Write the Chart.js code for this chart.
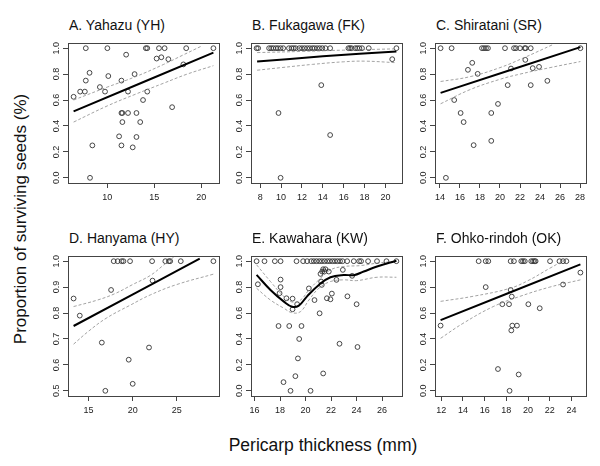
<!DOCTYPE html>
<html>
<head>
<meta charset="utf-8">
<script src="https://cdn.jsdelivr.net/npm/chart.js@4.4.1/dist/chart.umd.min.js"></script>
<style>
  body { margin: 0; background: #fff; }
  #page { position: relative; width: 600px; height: 466px; overflow: hidden; font-family: "Liberation Sans", Arial, sans-serif; color: #111; }
  canvas { position: absolute; }
  .title { position: absolute; font-size: 14px; line-height: 14px; white-space: nowrap; }
  #ylab { position: absolute; left: 21px; top: 219px; font-size: 17px; white-space: nowrap; transform: translate(-50%, -50%) rotate(-90deg); }
  #xlab { position: absolute; left: 323px; top: 445px; font-size: 17.5px; white-space: nowrap; transform: translate(-50%, -50%); }
</style>
</head>
<body>
<div id="page">
  <div id="ylab">Proportion of surviving seeds (%)</div>
  <div id="xlab">Pericarp thickness (mm)</div>
</div>
<script>
// tick labels
const yTicks = [0, 0.2, 0.4, 0.6, 0.8, 1.0];
const yTicksD = [0.5, 0.6, 0.7, 0.8, 0.9, 1.0];

// A. Yahazu
const xA = [7.7, 10.0, 14.1, 14.25, 15.5, 16.1, 18.4, 21.3, 12.0, 15.25, 15.75, 16.5, 18.1, 8.1, 12.9, 7.7, 10.1, 11.5, 7.1, 7.6, 9.2, 9.75, 12.2, 14.25, 6.4, 13.8, 16.9, 11.5, 11.6, 12.2, 13.1, 11.6, 13.5, 11.25, 13.1, 8.4, 11.5, 12.7, 8.15];
const yA = [1, 1, 1, 1, 1, 1, 1, 1, 0.95, 0.92, 0.93, 0.915, 0.875, 0.81, 0.80, 0.75, 0.785, 0.75, 0.665, 0.665, 0.70, 0.665, 0.665, 0.665, 0.625, 0.60, 0.545, 0.5, 0.5, 0.5, 0.5, 0.43, 0.43, 0.32, 0.315, 0.25, 0.25, 0.235, 0];
const fitAx = [6.4, 21.3], fitAy = [0.513, 0.966];
const upAx = [6.4, 10, 13, 16, 18, 20], upAy = [0.60, 0.70, 0.78, 0.875, 0.945, 1.015];
const loAx = [6.4, 10, 13, 16, 18.5, 21.3], loAy = [0.43, 0.555, 0.645, 0.73, 0.80, 0.865];
const ticksA = [10, 15, 20];

// B. Fukagawa
const xB = [7.65, 7.8, 8.85, 9.05, 9.25, 9.5, 9.7, 9.95, 10.2, 10.75, 11.0, 11.2, 11.4, 11.75, 12.0, 12.25, 12.5, 12.75, 13.0, 13.2, 13.45, 13.7, 13.95, 14.25, 14.7, 16.45, 16.6, 16.75, 17.1, 17.3, 17.5, 17.75, 18.4, 21.05, 20.65, 13.85, 9.75, 14.7, 9.95];
const yB = [1, 1, 1, 1, 1, 1, 1, 1, 1, 1, 1, 1, 1, 1, 1, 1, 1, 1, 1, 1, 1, 1, 1, 1, 1, 1, 1, 1, 1, 1, 1, 1, 1, 1, 0.915, 0.715, 0.50, 0.33, 0];
const fitBx = [7.7, 14, 21.05], fitBy = [0.897, 0.937, 0.975];
const upBx = [7.7, 12, 16, 21.05], upBy = [0.966, 0.975, 0.985, 0.995];
const loBx = [7.7, 10, 13, 16, 18, 21.05], loBy = [0.83, 0.85, 0.875, 0.895, 0.90, 0.888];
const ticksB = [8, 10, 12, 14, 16, 18, 20];

// C. Shiratani
const xC = [14.07, 15.17, 18.2, 18.4, 18.6, 18.8, 20.5, 21.4, 21.6, 22.0, 22.47, 22.57, 23.07, 28.03, 17.23, 16.8, 17.77, 22.53, 21.1, 23.27, 23.9, 20.77, 23.07, 24.73, 15.43, 16.07, 16.37, 19.8, 19.13, 17.37, 19.13, 14.6];
const yC = [1, 1, 1, 1, 1, 1, 1, 1, 1, 1, 1, 1, 1, 1, 0.887, 0.833, 0.802, 0.91, 0.843, 0.846, 0.856, 0.715, 0.715, 0.748, 0.60, 0.50, 0.43, 0.57, 0.50, 0.252, 0.285, 0];
const fitCx = [14.07, 28.03], fitCy = [0.655, 1.008];
const upCx = [14.07, 17, 20, 22.5, 25.2], upCy = [0.743, 0.78, 0.85, 0.93, 1.025];
const loCx = [14.07, 17, 20, 22, 25, 28.03], loCy = [0.571, 0.68, 0.76, 0.80, 0.85, 0.897];
const ticksC = [14, 16, 18, 20, 22, 24, 26, 28];

// D. Hanyama
const xD = [13.3, 14.0, 17.55, 16.5, 16.9, 19.55, 20.0, 21.85, 22.25, 17.85, 18.3, 18.75, 18.95, 19.7, 22.2, 23.7, 24.1, 24.25, 25.45, 29.15];
const yD = [0.856, 0.79, 0.889, 0.686, 0.50, 0.62, 0.527, 0.667, 0.925, 1, 1, 1, 1, 1, 1, 1, 1, 1, 1, 1];
const fitDx = [13.3, 27.6], fitDy = [0.75, 1.01];
const upDx = [13.3, 16, 18, 20, 22, 23.5, 25], upDy = [0.825, 0.85, 0.875, 0.91, 0.945, 0.985, 1.025];
const loDx = [13.3, 15, 17, 19.7, 22, 25, 29.15], loDy = [0.68, 0.73, 0.78, 0.83, 0.87, 0.91, 0.95];
const ticksD = [15, 20, 25];

// E. Kawahara
const xE = [16.16, 16.78, 17.59, 18.04, 19.29, 19.81, 20.12, 20.44, 20.65, 20.86, 21.07, 21.28, 21.49, 21.7, 21.9, 22.1, 22.3, 22.5, 22.7, 22.9, 23.26, 23.78, 24.2, 24.35, 24.9, 25.6, 26.34, 27.12,
  16.26, 18.04, 18.04, 17.96, 18.5, 18.98, 18.98, 19.34, 20.26, 20.7, 21.1, 21.17, 21.38, 21.56, 21.3, 21.48, 21.82, 21.22, 21.27, 21.67, 21.95, 22.06, 22.42, 22.92, 23.28, 23.65, 24.0,
  17.88, 18.72, 19.68, 19.5, 22.66, 24.07, 19.4, 19.2, 18.27, 21.38, 18.82, 20.39];
const yE = [1, 1, 1, 1, 1, 1, 1, 1, 1, 1, 1, 1, 1, 1, 1, 1, 1, 1, 1, 1, 1, 1, 1, 1, 1, 1, 1, 1,
  0.822, 0.858, 0.80, 0.753, 0.714, 0.711, 0.629, 0.668, 0.79, 0.70, 0.598, 0.902, 0.938, 0.938, 0.92, 0.92, 0.92, 0.843, 0.817, 0.714, 0.706, 0.75, 0.856, 0.933, 0.729, 0.887, 0.668,
  0.50, 0.50, 0.50, 0.40, 0.363, 0.338, 0.25, 0.113, 0.067, 0.134, 0, 0];
const fitEx = [16.16, 17.25, 18.3, 18.95, 19.47, 20.1, 21.04, 21.95, 23.0, 23.78, 24.56, 25.6, 27.12];
const fitEy = [0.894, 0.778, 0.688, 0.648, 0.657, 0.727, 0.817, 0.876, 0.894, 0.892, 0.92, 0.959, 1.003];
const upEx = [16.16, 17.25, 18.3, 18.95, 19.6, 20.26, 21.04, 21.95, 23.0, 24.3, 25.6, 27.12];
const upEy = [0.972, 0.843, 0.727, 0.685, 0.70, 0.778, 0.856, 0.933, 0.959, 0.966, 0.985, 1.0];
const loEx = [16.16, 17.25, 18.3, 18.95, 19.6, 20.26, 21.04, 21.95, 23.0, 24.0, 25.6, 27.12];
const loEy = [0.791, 0.70, 0.637, 0.602, 0.611, 0.70, 0.791, 0.843, 0.856, 0.85, 0.876, 0.876];
const ticksE = [16, 18, 20, 22, 24, 26];

// F. Ohko-rindoh
const xF = [15.45, 16.1, 16.34, 18.4, 18.7, 19.38, 19.54, 19.7, 20.3, 20.46, 20.6, 20.7, 22.03, 22.9, 23.23, 23.54,
  16.1, 17.63, 18.25, 18.4, 18.5, 20.03, 21.08, 18.55, 18.98, 18.46, 23.23, 24.83, 11.94, 17.23, 19.14, 18.3];
const yF = [1, 1, 1, 1, 1, 1, 1, 1, 1, 1, 1, 1, 1, 1, 1, 1,
  0.80, 0.668, 0.668, 0.778, 0.727, 0.668, 0.637, 0.503, 0.503, 0.466, 0.82, 0.912, 0.503, 0.168, 0.126, 0];
const fitFx = [11.94, 24.83], fitFy = [0.545, 0.975];
const upFx = [11.94, 15, 18.3, 20, 22, 23.4], upFy = [0.69, 0.73, 0.79, 0.85, 0.945, 1.01];
const loFx = [11.94, 14, 16.8, 19.2, 22, 24.83], loFy = [0.405, 0.52, 0.65, 0.727, 0.80, 0.856];
const ticksF = [12, 14, 16, 18, 20, 22, 24];

function pairs(xs, ys) { return xs.map((x, i) => ({ x: x, y: ys[i] })); }
function padRange(vals) {
  const lo = Math.min(...vals), hi = Math.max(...vals), d = (hi - lo) * 0.04;
  return [lo - d, hi + d];
}

const PW = 151, PH = 140;
const panels = [
  { title: 'A. Yahazu (YH)', left: 68, top: 43, x: xA, y: yA, fit: [fitAx, fitAy], up: [upAx, upAy], lo: [loAx, loAy], xt: ticksA, yt: yTicks },
  { title: 'B. Fukagawa (FK)', left: 251, top: 43, x: xB, y: yB, fit: [fitBx, fitBy], up: [upBx, upBy], lo: [loBx, loBy], xt: ticksB, yt: yTicks },
  { title: 'C. Shiratani (SR)', left: 435, top: 43, x: xC, y: yC, fit: [fitCx, fitCy], up: [upCx, upCy], lo: [loCx, loCy], xt: ticksC, yt: yTicks },
  { title: 'D. Hanyama (HY)', left: 68, top: 256, x: xD, y: yD, fit: [fitDx, fitDy], up: [upDx, upDy], lo: [loDx, loDy], xt: ticksD, yt: yTicksD },
  { title: 'E. Kawahara (KW)', left: 251, top: 256, x: xE, y: yE, fit: [fitEx, fitEy], up: [upEx, upEy], lo: [loEx, loEy], xt: ticksE, yt: yTicks },
  { title: 'F. Ohko-rindoh (OK)', left: 435, top: 256, x: xF, y: yF, fit: [fitFx, fitFy], up: [upFx, upFy], lo: [loFx, loFy], xt: ticksF, yt: yTicks }
];

const boxPlugin = {
  id: 'box',
  afterDraw(chart) {
    const a = chart.chartArea, c = chart.ctx;
    c.save();
    c.strokeStyle = '#444';
    c.lineWidth = 1;
    c.strokeRect(a.left + 0.5, a.top + 0.5, a.width, a.height);
    c.restore();
  }
};

const page = document.getElementById('page');
const tickFont = { family: '"Liberation Sans", Arial, sans-serif', size: 9 };

panels.forEach(p => {
  const t = document.createElement('div');
  t.className = 'title';
  t.textContent = p.title;
  t.style.left = (p.left + 1) + 'px';
  t.style.top = (p.top - 25) + 'px';
  page.appendChild(t);

  const cv = document.createElement('canvas');
  cv.width = PW + 40;
  cv.height = PH + 34;
  cv.style.left = (p.left - 30) + 'px';
  cv.style.top = (p.top - 6) + 'px';
  page.appendChild(cv);

  const xr = padRange(p.x), yr = padRange(p.y);
  const dashed = { showLine: true, borderColor: '#8c8c8c', borderWidth: 0.8, borderDash: [3, 2], pointRadius: 0, tension: 0.4, fill: false };

  new Chart(cv, {
    type: 'scatter',
    data: {
      datasets: [
        { data: pairs(p.fit[0], p.fit[1]), showLine: true, borderColor: '#000', borderWidth: 2, pointRadius: 0, tension: 0.4, fill: false },
        Object.assign({ data: pairs(p.up[0], p.up[1]) }, dashed),
        Object.assign({ data: pairs(p.lo[0], p.lo[1]) }, dashed),
        { data: pairs(p.x, p.y), pointStyle: 'circle', pointRadius: 2.4, pointBorderWidth: 0.9, borderColor: '#333', backgroundColor: 'rgba(0,0,0,0)' }
      ]
    },
    options: {
      responsive: false,
      animation: false,
      events: [],
      layout: { padding: { left: 0, top: 6, right: 10, bottom: 0 } },
      plugins: { legend: { display: false }, tooltip: { enabled: false } },
      scales: {
        x: {
          type: 'linear', min: xr[0], max: xr[1],
          afterBuildTicks: s => { s.ticks = p.xt.map(v => ({ value: v })); },
          afterFit: s => { s.height = 28; },
          grid: { drawOnChartArea: false, tickLength: 5, color: '#444' },
          border: { display: false },
          ticks: { font: tickFont, color: '#222', padding: 4, maxRotation: 0, autoSkip: false, callback: v => String(v) }
        },
        y: {
          type: 'linear', min: yr[0], max: yr[1],
          afterBuildTicks: s => { s.ticks = p.yt.map(v => ({ value: v })); },
          afterFit: s => { s.width = 30; },
          grid: { drawOnChartArea: false, tickLength: 5, color: '#444' },
          border: { display: false },
          ticks: { font: tickFont, color: '#222', padding: 0, minRotation: 90, maxRotation: 90, crossAlign: 'center', autoSkip: false, callback: v => v.toFixed(1) }
        }
      }
    },
    plugins: [boxPlugin]
  });
});
</script>
</body>
</html>
